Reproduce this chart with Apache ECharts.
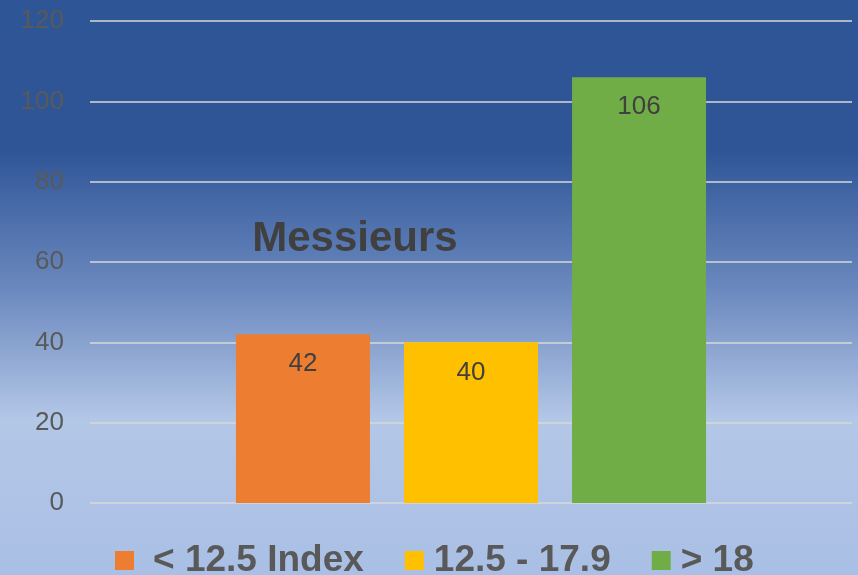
<!DOCTYPE html>
<html>
<head>
<meta charset="utf-8">
<script src="https://cdn.jsdelivr.net/npm/echarts@6/dist/echarts.min.js"></script>
<style>
    html, body { margin: 0; padding: 0; }
    #app { width: 858px; height: 575px; }
</style>
</head>
<body>
<div id="app"></div>
<script>
// 数据
let categories = ["Messieurs"];
let seriesNames = ["< 12.5 Index", "12.5 - 17.9", "> 18"];
let seriesValues = [[42], [40], [106]];
let seriesColors = ["#ED7D31", "#FFC000", "#70AD47"];

let myChart = echarts.init(document.querySelector("#app"));

let series = seriesNames.map((name, i) => ({
    name: name,
    type: "bar",
    data: seriesValues[i],
    barWidth: 134,
    barGap: "25.4%",
    itemStyle: { color: seriesColors[i] },
    label: {
        show: true,
        position: "insideTop",
        distance: 17,
        color: "#404040",
        fontSize: 26,
        fontFamily: "Liberation Sans"
    }
}));

myChart.setOption({
    animation: false,
    // 背景渐变
    backgroundColor: new echarts.graphic.LinearGradient(0, 0, 0, 1, [
        { offset: 0, color: "#2E5595" },
        { offset: 0.26, color: "#2F5597" },
        { offset: 0.5, color: "#6A88BE" },
        { offset: 0.73, color: "#B3C7E7" },
        { offset: 1, color: "#AABFE5" }
    ]),
    title: {
        text: categories[0],
        left: 350,
        top: 213,
        textAlign: "center",
        textStyle: {
            color: "#404040",
            fontSize: 42,
            fontWeight: "bold",
            fontFamily: "Liberation Sans"
        }
    },
    legend: {
        left: 110,
        top: 537,
        icon: "rect",
        itemWidth: 19,
        itemHeight: 19,
        itemGap: 41,
        data: seriesNames.map((n, i) => ({
            name: n,
            textStyle: { padding: [0, 0, 0, i === 0 ? 14 : 5] }
        })),
        textStyle: {
            color: "#595959",
            fontSize: 37,
            fontWeight: "bold",
            fontFamily: "Liberation Sans"
        }
    },
    grid: {
        left: 90,
        right: 6,
        top: 21,
        bottom: 72
    },
    xAxis: {
        type: "category",
        data: categories,
        axisLine: { show: false },
        axisTick: { show: false },
        axisLabel: { show: false }
    },
    yAxis: {
        type: "value",
        min: 0,
        max: 120,
        interval: 20,
        axisLine: { show: false },
        axisTick: { show: false },
        axisLabel: {
            color: "#595959",
            fontSize: 26,
            margin: 26,
            fontFamily: "Liberation Sans"
        },
        splitLine: {
            lineStyle: { color: "#D9D9D9", width: 1.5 }
        }
    },
    series: series
});
</script>
</body>
</html>
